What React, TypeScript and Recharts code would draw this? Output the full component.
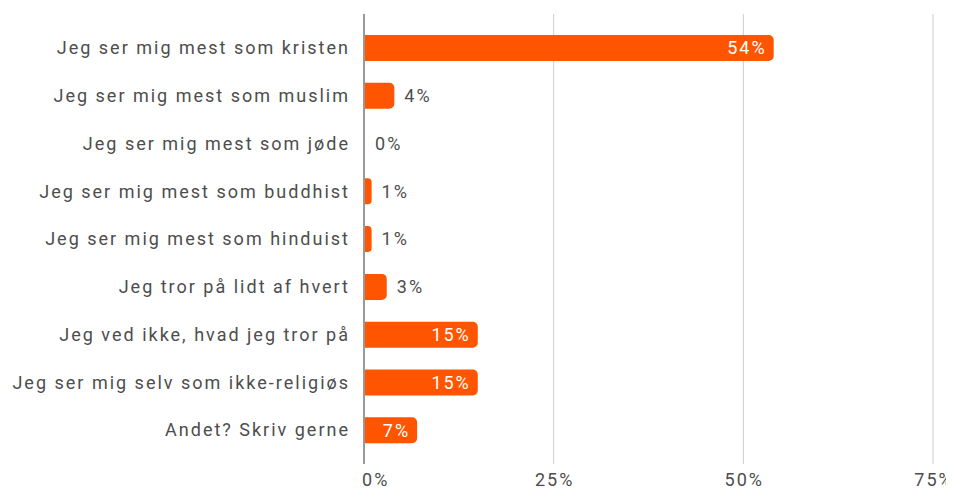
import * as React from 'react';
import { Bar, BarChart, CartesianGrid, LabelList, XAxis, YAxis, ReferenceLine } from 'recharts';

const categories = [
  'Jeg ser mig mest som kristen',
  'Jeg ser mig mest som muslim',
  'Jeg ser mig mest som jøde',
  'Jeg ser mig mest som buddhist',
  'Jeg ser mig mest som hinduist',
  'Jeg tror på lidt af hvert',
  'Jeg ved ikke, hvad jeg tror på',
  'Jeg ser mig selv som ikke-religiøs',
  'Andet? Skriv gerne',
];
const shares = [54, 4, 0, 1, 1, 3, 15, 15, 7];
const xTicks = [0, 25, 50, 75];

const data = categories.map((name, i) => ({ name, value: shares[i] }));

const FONT = 'Roboto, sans-serif';
const TEXT = '#4d4d4d';
const ORANGE = '#ff5500';
const SPACING = 2;

function XTick(props: any) {
  const { x, y, payload } = props;
  const first = payload.value === 0;
  return (
    <text
      x={first ? x - 2 : x + 1}
      y={y}
      dy={14}
      textAnchor={first ? 'start' : 'middle'}
      fill={TEXT}
      fontSize={18}
      fontFamily={FONT}
      letterSpacing={SPACING}
    >
      {payload.value}%
    </text>
  );
}

function YTick(props: any) {
  const { x, y, payload } = props;
  return (
    <text
      x={x + SPACING}
      y={y}
      dy="0.35em"
      textAnchor="end"
      fill={TEXT}
      fontSize={18}
      fontFamily={FONT}
      letterSpacing={SPACING}
    >
      {payload.value}
    </text>
  );
}

function ValueLabel(props: any) {
  const { x, y, width, height, value } = props;
  const inside = value >= 5;
  return (
    <text
      x={inside ? x + width - 7 : x + width + 10}
      y={y + height / 2}
      dy="0.35em"
      textAnchor={inside ? 'end' : 'start'}
      fill={inside ? '#ffffff' : TEXT}
      fontSize={18}
      fontFamily={FONT}
      letterSpacing={SPACING}
    >
      {value}%
    </text>
  );
}

export default function App() {
  return (
    <BarChart
      width={946}
      height={482}
      data={data}
      layout="vertical"
      margin={{ top: 6, right: 21, bottom: 0, left: 0 }}
      barCategoryGap={11}
    >
      <CartesianGrid horizontal={false} stroke="#cccccc" />
      <XAxis
        type="number"
        domain={[0, 75]}
        ticks={xTicks}
        tick={<XTick />}
        tickLine={false}
        axisLine={false}
        height={26}
      />
      <YAxis
        type="category"
        dataKey="name"
        width={356}
        tickLine={false}
        axisLine={false}
        tickMargin={10}
        padding={{ top: 10, bottom: 10 }}
        tick={<YTick />}
        interval={0}
      />
      <Bar
        dataKey="value"
        fill={ORANGE}
        radius={[0, 5, 5, 0]}
        minPointSize={1}
        isAnimationActive={false}
      >
        <LabelList dataKey="value" content={<ValueLabel />} />
      </Bar>
      <ReferenceLine x={0} stroke="#999999" strokeWidth={2} />
    </BarChart>
  );
}
